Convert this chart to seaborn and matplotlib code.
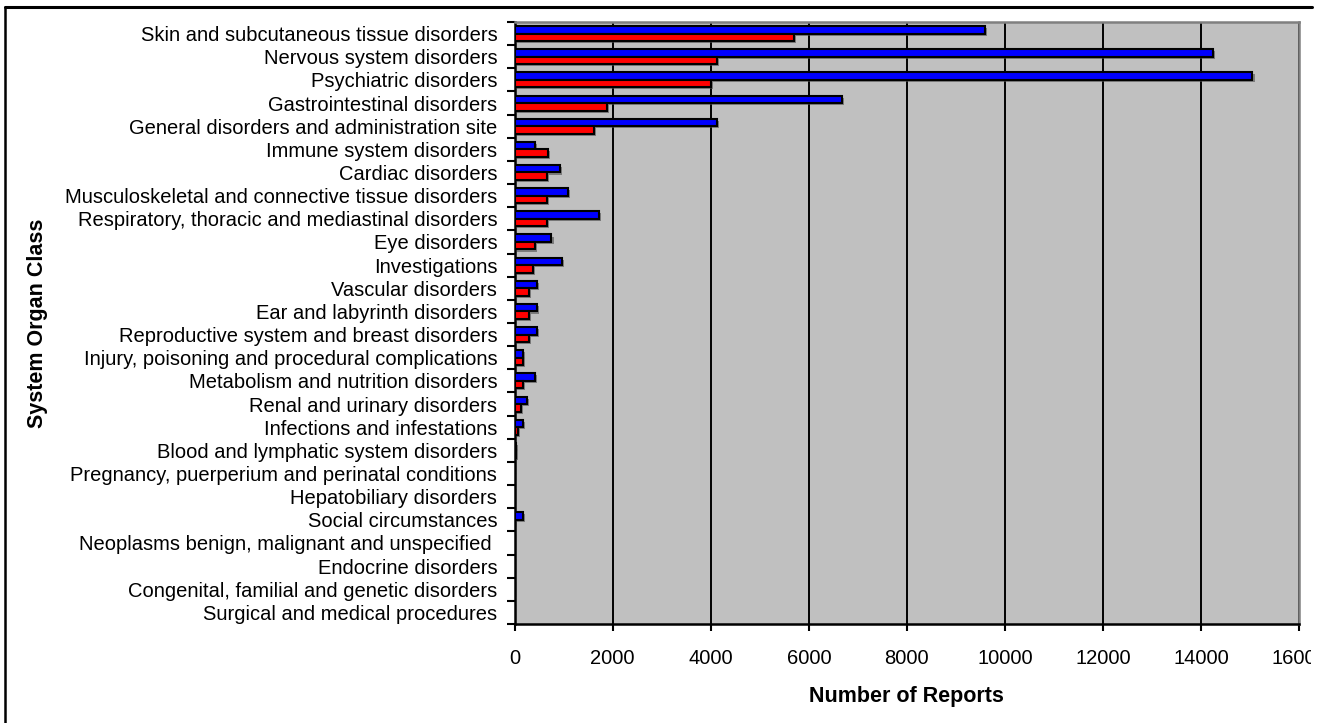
import matplotlib
matplotlib.use("Agg")
import matplotlib.pyplot as plt
import matplotlib.patheffects as pe
from matplotlib.lines import Line2D
from matplotlib.transforms import Bbox, TransformedBbox
import seaborn as sns
import pandas as pd

categories = [
    "Skin and subcutaneous tissue disorders",
    "Nervous system disorders",
    "Psychiatric disorders",
    "Gastrointestinal disorders",
    "General disorders and administration site",
    "Immune system disorders",
    "Cardiac disorders",
    "Musculoskeletal and connective tissue disorders",
    "Respiratory, thoracic and mediastinal disorders",
    "Eye disorders",
    "Investigations",
    "Vascular disorders",
    "Ear and labyrinth disorders",
    "Reproductive system and breast disorders",
    "Injury, poisoning and procedural complications",
    "Metabolism and nutrition disorders",
    "Renal and urinary disorders",
    "Infections and infestations",
    "Blood and lymphatic system disorders",
    "Pregnancy, puerperium and perinatal conditions",
    "Hepatobiliary disorders",
    "Social circumstances",
    "Neoplasms benign, malignant and unspecified ",
    "Endocrine disorders",
    "Congenital, familial and genetic disorders",
    "Surgical and medical procedures",
]
series_blue = [9600, 14250, 15050, 6670, 4130, 410, 920, 1090, 1710, 750, 960,
               460, 460, 460, 160, 410, 250, 170, 30, 0, 0, 170, 0, 0, 0, 0]
series_red = [5700, 4130, 4000, 1880, 1620, 670, 660, 660, 660, 410, 370,
              290, 290, 290, 160, 160, 120, 75, 20, 0, 0, 0, 0, 0, 0, 0]
series_names = ["Series 1", "Series 2"]
x_ticks = [0, 2000, 4000, 6000, 8000, 10000, 12000, 14000, 16000]

df = pd.DataFrame({
    "soc": categories * 2,
    "reports": series_blue + series_red,
    "series": [series_names[0]] * len(categories) + [series_names[1]] * len(categories),
})

sns.set_theme(style="white")
plt.rcParams["font.family"] = ["Liberation Sans", "DejaVu Sans"]
for key in ("text.color", "axes.labelcolor", "xtick.color", "ytick.color"):
    plt.rcParams[key] = "black"

W, H = 1328, 723
fig = plt.figure(figsize=(W / 100, H / 100), dpi=100)
ax = fig.add_axes([514.7 / W, 1 - 624 / H, (1299 - 514.7) / W, (624 - 22) / H])
ax.set_facecolor("#C0C0C0")

sns.barplot(data=df, y="soc", x="reports", hue="series", orient="h",
            palette=["#0000FF", "#FF0000"], width=0.65, gap=0,
            edgecolor="black", linewidth=1.5, saturation=1, legend=False,
            ax=ax, zorder=3)

shadow = [pe.SimplePatchShadow(offset=(1.5, -1.5), shadow_rgbFace="#505050", alpha=0.6),
          pe.Normal()]
for p in ax.patches:
    p.set_path_effects(shadow)

# x axis
ax.set_xlim(0, 16000)
ax.set_xticks(x_ticks)
ax.set_xticklabels([str(v) for v in x_ticks])
ax.xaxis.grid(True, color="black", linewidth=1.4, zorder=1)
ax.set_axisbelow(True)
ax.tick_params(axis="x", direction="out", length=5, width=1.5, color="black",
               labelsize=14.5, pad=13, bottom=True, labelcolor="black")

# y axis: labels centred on categories, tick marks on category boundaries
n = len(categories)
ax.set_ylim(n - 0.5, -0.5)
ax.set_yticks(range(n))
ax.set_yticklabels(categories)
ax.set_yticks([i - 0.5 for i in range(n + 1)], minor=True)
ax.tick_params(axis="y", which="major", length=0, labelsize=14.5, pad=12.5,
               labelcolor="black")
ax.tick_params(axis="y", which="minor", direction="out", length=5.5, width=1.5,
               color="black", left=True)

for side in ("left", "bottom"):
    ax.spines[side].set_color("black")
    ax.spines[side].set_linewidth(1.8)
for side in ("top", "right"):
    ax.spines[side].set_color("#808080")
    ax.spines[side].set_linewidth(1.8)
    ax.spines[side].set_visible(True)

ax.set_xlabel("Number of Reports", fontsize=15.5, fontweight="bold", color="black")
ax.set_ylabel("System Organ Class", fontsize=15.5, fontweight="bold", color="black")
ax.xaxis.set_label_coords(0.5, -0.103)
ax.yaxis.set_label_coords(-0.595, 0.5)

# chart border (left and top edges)
fig.add_artist(Line2D([5 / W, 1312 / W], [1 - 7 / H, 1 - 7 / H],
                      transform=fig.transFigure, color="black", linewidth=2.2))
fig.add_artist(Line2D([5 / W, 5 / W], [0, 1 - 7 / H],
                      transform=fig.transFigure, color="black", linewidth=1.8))

# tick labels are clipped at the chart's right edge
clip = TransformedBbox(Bbox([[0, 0], [1311 / W, 1]]), fig.transFigure)
for lab in ax.get_xticklabels():
    lab.set_clip_on(True)
    lab.set_clip_box(clip)

fig.savefig("out.png", dpi=100)
